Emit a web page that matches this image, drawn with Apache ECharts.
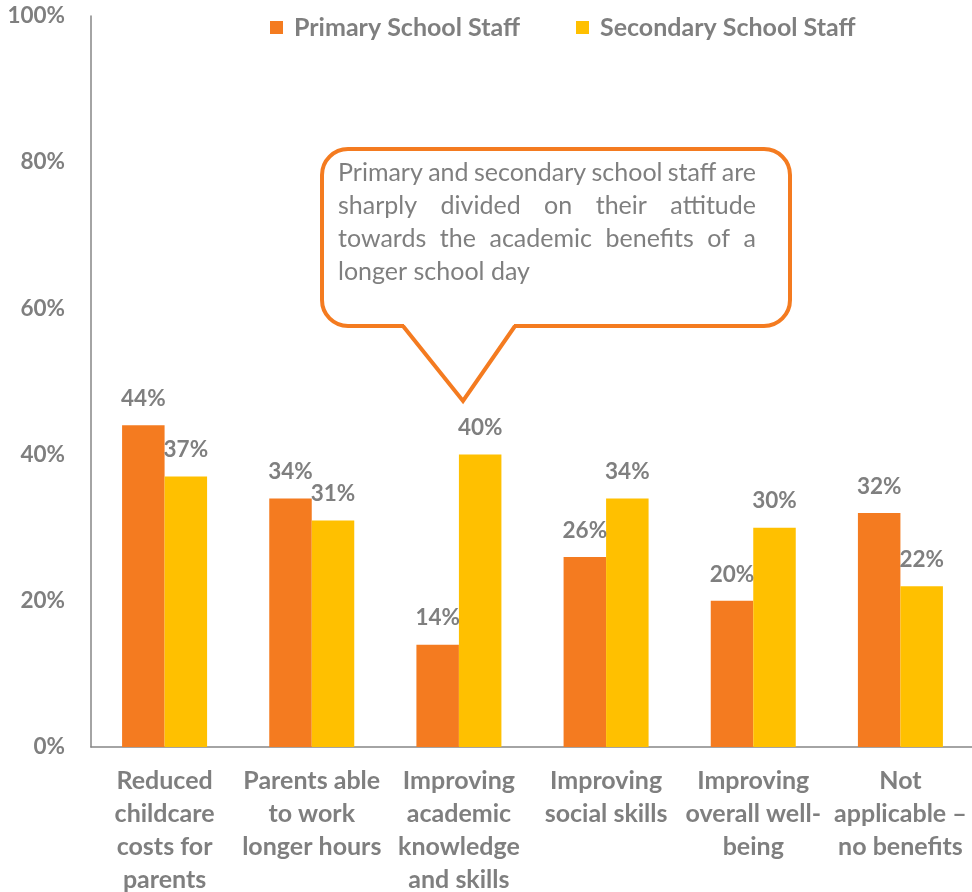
<!DOCTYPE html>
<html><head><meta charset="utf-8">
<script src="https://cdn.jsdelivr.net/npm/echarts@6/dist/echarts.min.js"></script>
<style>html,body{margin:0;padding:0;background:#fff}#chart{width:972px;height:892px}</style>
</head><body><div id="chart"></div>
<script>
// Perceived benefits of a longer school day, by staff group (% of respondents)
const categories = [
  'Reduced\nchildcare\ncosts for\nparents',
  'Parents able\nto work\nlonger hours',
  'Improving\nacademic\nknowledge\nand skills',
  'Improving\nsocial skills',
  'Improving\noverall well-\nbeing',
  'Not\napplicable –\nno benefits'
];
const primaryStaff = [44, 34, 14, 26, 20, 32];
const secondaryStaff = [37, 31, 40, 34, 30, 22];
const seriesNames = ['Primary School Staff', 'Secondary School Staff'];
const yMax = 100;
const yStep = 20;
const calloutLines = [
  'Primary and secondary school staff are',
  'sharply divided on their attitude',
  'towards the academic benefits of a',
  'longer school day'
];

const FONT = 'Lato, "Open Sans", sans-serif';
const GREY = '#7f7f7f';
const ORANGE = '#f47b20';
const YELLOW = '#ffc000';

// Justified callout text: every line but the last is spread across the box width
function justifiedText(lines, left, top, width, lineHeight, fontSize) {
  const ctx = document.createElement('canvas').getContext('2d');
  ctx.font = fontSize + 'px ' + FONT;
  const els = [];
  lines.forEach((line, i) => {
    const y = top + i * lineHeight;
    const words = line.split(' ');
    if (i === lines.length - 1 || words.length < 2) {
      els.push({ type: 'text', x: left, y: y, z: 20,
        style: { text: line, fill: GREY, font: fontSize + 'px ' + FONT } });
      return;
    }
    const widths = words.map(w => ctx.measureText(w).width);
    const total = widths.reduce((a, b) => a + b, 0);
    const gap = (width - total) / (words.length - 1);
    let x = left;
    words.forEach((w, j) => {
      els.push({ type: 'text', x: x, y: y, z: 20,
        style: { text: w, fill: GREY, font: fontSize + 'px ' + FONT } });
      x += widths[j] + gap;
    });
  });
  return els;
}

// Speech-bubble callout: rounded box plus a pointer
function callout(x0, y0, x1, y1, r, baseL, baseR, tipX, tipY) {
  return [
    { type: 'rect', z: 10, shape: { x: x0, y: y0, width: x1 - x0, height: y1 - y0, r: r },
      style: { fill: '#fff', stroke: ORANGE, lineWidth: 4 } },
    { type: 'polygon', z: 11, shape: { points: [[baseL + 1, y1 - 3], [baseR - 1, y1 - 3], [baseR - 1, y1 + 3], [tipX, tipY - 2], [baseL + 1, y1 + 3]] },
      style: { fill: '#fff' } },
    { type: 'polyline', z: 12, shape: { points: [[baseL, y1], [tipX, tipY], [baseR, y1]] },
      style: { fill: null, stroke: ORANGE, lineWidth: 4, lineJoin: 'miter' } }
  ];
}

const labelStyle = {
  show: true, position: 'top', distance: 15,
  formatter: p => p.value + '%',
  color: GREY, fontFamily: FONT, fontWeight: 'bold', fontSize: 22.5
};

const chart = echarts.init(document.getElementById('chart'), null, { renderer: 'canvas' });
chart.setOption({
  animation: false,
  backgroundColor: '#fff',
  grid: { left: 91, top: 16, width: 883, height: 731, containLabel: false, outerBoundsMode: 'none' },
  legend: {
    left: 265, top: 10, itemWidth: 13, itemHeight: 13, itemGap: 56, icon: 'rect',
    textStyle: { color: GREY, fontFamily: FONT, fontWeight: 'bold', fontSize: 25, padding: [0, 0, 0, 6] },
    data: seriesNames
  },
  xAxis: {
    type: 'category', data: categories,
    axisLine: { show: true, lineStyle: { color: '#868686', width: 1.5 } },
    axisTick: { show: false },
    axisLabel: { color: GREY, fontFamily: FONT, fontWeight: 'bold', fontSize: 25, lineHeight: 33, margin: 17, interval: 0 }
  },
  yAxis: {
    type: 'value', min: 0, max: yMax, interval: yStep,
    axisLine: { show: true, lineStyle: { color: '#868686', width: 1.5 } },
    axisTick: { show: false },
    splitLine: { show: false },
    axisLabel: { formatter: '{value}%', color: GREY, fontFamily: FONT, fontWeight: 'bold', fontSize: 22.5, margin: 26 }
  },
  series: [
    { name: seriesNames[0], type: 'bar', data: primaryStaff, barWidth: 42.5, barGap: '0%',
      itemStyle: { color: ORANGE }, label: labelStyle },
    { name: seriesNames[1], type: 'bar', data: secondaryStaff, barWidth: 42.5, barGap: '0%',
      itemStyle: { color: YELLOW }, label: labelStyle }
  ],
  graphic: callout(322, 149, 790, 326, 26, 403, 515, 463, 401)
    .concat(justifiedText(calloutLines, 338, 160, 418, 33, 25))
});
</script>
</body></html>
